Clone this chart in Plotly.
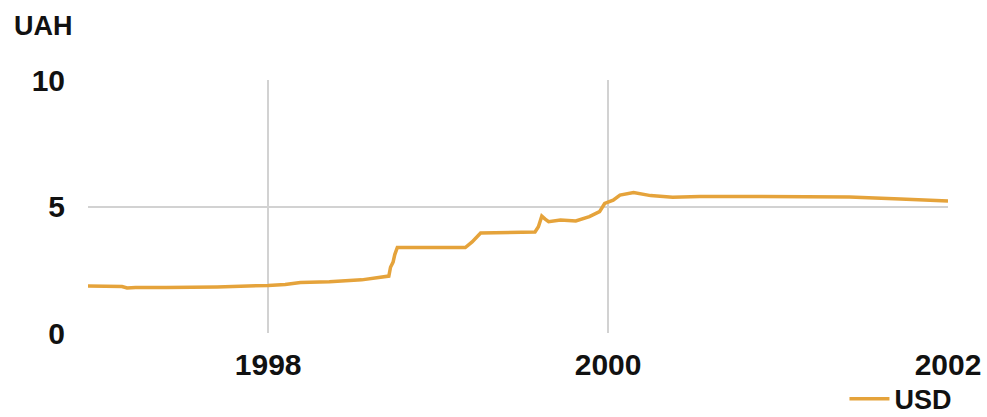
import plotly.graph_objects as go

years = [1996.94, 1997.05, 1997.14, 1997.17, 1997.22, 1997.4, 1997.7, 1998.0, 1998.1,
         1998.19, 1998.36, 1998.55, 1998.66, 1998.71, 1998.72, 1998.735, 1998.745, 1998.76,
         1999.16, 1999.2, 1999.25, 1999.57, 1999.59, 1999.61, 1999.63, 1999.65, 1999.72,
         1999.81, 1999.89, 1999.95, 1999.98, 2000.03, 2000.07, 2000.15, 2000.25, 2000.38,
         2000.54, 2001.0, 2001.42, 2001.72, 2002.0]
usd = [1.86, 1.86, 1.84, 1.78, 1.80, 1.80, 1.82, 1.88, 1.92,
       2.00, 2.03, 2.10, 2.20, 2.25, 2.6, 2.8, 3.1, 3.38,
       3.38, 3.60, 3.95, 3.99, 4.20, 4.62, 4.50, 4.40, 4.47,
       4.43, 4.60, 4.80, 5.12, 5.25, 5.45, 5.55, 5.43, 5.37,
       5.40, 5.40, 5.38, 5.30, 5.22]

x_ticks = [1998, 2000, 2002]
x_labels = ["1998", "2000", "2002"]
y_ticks = [0, 5, 10]

line_color = "#E5A33B"
font_family = "Liberation Sans, Arial, sans-serif"
fsize = 30

fig = go.Figure()
fig.add_trace(go.Scatter(x=years, y=usd, mode="lines", name="USD",
                         line=dict(color=line_color, width=3.5)))

fig.update_layout(
    width=987, height=417,
    margin=dict(l=88, r=39, t=80, b=84, autoexpand=False),
    paper_bgcolor="white", plot_bgcolor="white",
    font=dict(family=font_family, size=fsize, color="#111111"),
    showlegend=True,
    legend=dict(x=1.011, y=-0.262, xanchor="right", yanchor="middle",
                font=dict(family=font_family, size=27, color="#111111", weight="bold"),
                bgcolor="rgba(0,0,0,0)", itemwidth=40),
    xaxis=dict(range=[1996.94, 2002], tickvals=x_ticks, ticktext=x_labels,
               showgrid=True, gridcolor="#D2D2D2", gridwidth=2, zeroline=False,
               showline=False, ticks="", ticklabelstandoff=11, automargin=False,
               tickfont=dict(family=font_family, size=fsize, color="#111111", weight="bold")),
    yaxis=dict(range=[0, 10], tickvals=y_ticks,
               showgrid=True, gridcolor="#D2D2D2", gridwidth=2, zeroline=False,
               showline=False, ticks="", ticklabelstandoff=22, automargin=False,
               tickfont=dict(family=font_family, size=fsize, color="#111111", weight="bold")),
    annotations=[dict(text="<b>UAH</b>", xref="paper", yref="paper", x=-0.088, y=1.215,
                      xanchor="left", yanchor="middle", showarrow=False,
                      font=dict(family=font_family, size=27, color="#111111"))],
)

fig.write_html("out.html", config={"displayModeBar": False},
               post_script="document.body.style.margin='0';document.body.style.overflow='hidden';")
